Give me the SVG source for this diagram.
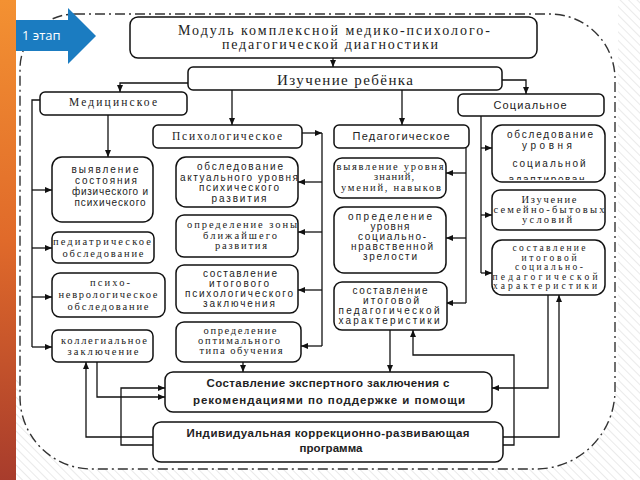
<svg xmlns="http://www.w3.org/2000/svg" width="640" height="480" viewBox="0 0 640 480">
<defs>
<pattern id="hatch" width="6" height="6" patternUnits="userSpaceOnUse" patternTransform="rotate(-45)">
<rect width="6" height="6" fill="#ffffff"/>
<line x1="0" y1="0" x2="0" y2="6" stroke="#e4e4e4" stroke-width="1.5"/>
</pattern>
<linearGradient id="strip" x1="0" y1="0" x2="0" y2="1">
<stop offset="0" stop-color="#f39132"/>
<stop offset="0.5" stop-color="#e06a2a"/>
<stop offset="1" stop-color="#a83c2c"/>
</linearGradient>
<marker id="ah" markerWidth="7" markerHeight="7" refX="7" refY="3.5" orient="auto" markerUnits="userSpaceOnUse">
<path d="M0,0.5 L7,3.5 L0,6.5 z" fill="#111"/>
</marker>
<clipPath id="clipSoc1"><rect x="493" y="126" width="111" height="54" rx="8"/></clipPath>
<style>
.box{fill:#fff;stroke:#111;stroke-width:1.5}
.c{fill:none;stroke:#111;stroke-width:1.3}
.a{fill:none;stroke:#111;stroke-width:1.3;marker-end:url(#ah)}
text{fill:#222;text-anchor:middle}
.sr{font-family:"Liberation Serif","DejaVu Serif",serif;font-size:10.5px}
.ss{font-family:"Liberation Sans","DejaVu Sans",sans-serif;font-size:10px}
.hd{font-family:"Liberation Serif","DejaVu Serif",serif;font-size:14px}
.bb{font-family:"Liberation Sans","DejaVu Sans",sans-serif;font-size:11.5px;font-weight:bold}
</style>
</defs>
<rect width="640" height="480" fill="url(#hatch)"/>
<rect x="16" y="0" width="602" height="380" fill="#fff"/>
<path d="M75,14 H550 A65,65 0 0 1 615,79 V390 A79,79 0 0 1 536,469 H92 A72,72 0 0 1 20,397 V69 A55,55 0 0 1 75,14 Z" fill="#fff" stroke="#333" stroke-width="1.4" stroke-dasharray="10 4 2 4"/>
<rect x="0" y="0" width="16" height="480" fill="url(#strip)"/>
<g id="stage">
<polygon points="16,20 68,20 68,8 96,36 68,64 68,51 16,51" fill="#1b7cc1"/>
<text x="22" y="40" style="font-family:'Open Sans','DejaVu Sans',sans-serif;font-size:13px;fill:#fff;text-anchor:start">1 этап</text>
</g>
<g id="connectors">
<path class="a" d="M333,58 V67"/>
<path class="a" d="M188,83 H120 V92"/>
<path class="a" d="M502,80 H526 V94"/>
<path class="a" d="M232,90 V125"/>
<path class="a" d="M402,90 V125"/>
<path class="c" d="M40,100 H32 V347"/>
<path class="a" d="M32,190 H52"/>
<path class="a" d="M32,248 H52"/>
<path class="a" d="M32,297 H52"/>
<path class="a" d="M32,347 H52"/>
<path class="a" d="M108,115 V157"/>
<path class="a" d="M302,133 H322"/>
<path class="c" d="M322,133 V346"/>
<path class="a" d="M322,182 H298"/>
<path class="a" d="M322,232 H298"/>
<path class="a" d="M322,290 H298"/>
<path class="a" d="M322,346 H301"/>
<path class="c" d="M466,148 V303"/>
<path class="a" d="M466,173 H446"/>
<path class="a" d="M466,238 H446"/>
<path class="a" d="M466,303 H446"/>
<path class="c" d="M481,116 V273"/>
<path class="a" d="M481,148 H492"/>
<path class="a" d="M481,215 H492"/>
<path class="a" d="M481,273 H492"/>
<path class="a" d="M243,362 V372"/>
<path class="a" d="M390,330 V372"/>
<path class="a" d="M97,362 V397 H165"/>
<path class="a" d="M153,437 H86 V362"/>
<path class="a" d="M153,445 H121 V388 H165"/>
<path class="a" d="M503,445 H514 V355 H413 V330"/>
<path class="a" d="M548,295 V388 H492"/>
<path class="a" d="M503,437 H559 V295"/>
</g>
<g id="module">
<rect class="box" x="130" y="17" width="407" height="41" rx="8"/>
<text class="hd" x="334" y="35" textLength="312">Модуль комплексной медико-психолого-</text>
<text class="hd" x="330" y="49" textLength="216">педагогической диагностики</text>
</g>
<g id="study">
<rect class="box" x="188" y="67" width="314" height="23" rx="5"/>
<text class="hd" x="345" y="85" style="font-size:15px" textLength="136">Изучение ребёнка</text>
</g>
<g id="med">
<rect class="box" x="40" y="92" width="147" height="23" rx="5"/>
<text class="sr" x="113" y="106" style="font-size:11.5px" textLength="88">Медицинское</text>
</g>
<g id="psy">
<rect class="box" x="153" y="125" width="149" height="23" rx="5"/>
<text class="sr" x="227" y="140" style="font-size:11.5px" textLength="110">Психологическое</text>
</g>
<g id="ped">
<rect class="box" x="334" y="125" width="135" height="23" rx="5"/>
<text class="ss" x="401" y="140" style="font-size:11px" textLength="97">Педагогическое</text>
</g>
<g id="soc">
<rect class="box" x="458" y="94" width="146" height="22" rx="5"/>
<text class="ss" x="530" y="109" style="font-size:11px" textLength="73">Социальное</text>
</g>
<g id="med1">
<rect class="box" x="52" y="157" width="101" height="65" rx="10"/>
<text class="ss" x="105" y="173" textLength="67">выявление</text>
<text class="ss" x="106" y="184" textLength="62">состояния</text>
<text class="ss" x="110" y="195" textLength="76">физического и</text>
<text class="ss" x="110" y="206" textLength="71">психического</text>
</g>
<g id="med2">
<rect class="box" x="52" y="232" width="102" height="31" rx="6"/>
<text class="sr" x="102" y="245" textLength="98">педиатрическое</text>
<text class="sr" x="103" y="257" textLength="81">обследование</text>
</g>
<g id="med3">
<rect class="box" x="52" y="273" width="113" height="44" rx="8"/>
<text class="sr" x="110" y="286" textLength="40">психо-</text>
<text class="sr" x="108" y="298" textLength="99">неврологическое</text>
<text class="sr" x="108" y="310" textLength="81">обследование</text>
</g>
<g id="med4">
<rect class="box" x="52" y="330" width="101" height="32" rx="6"/>
<text class="sr" x="104" y="344" textLength="86">коллегиальное</text>
<text class="sr" x="103" y="355" textLength="71">заключение</text>
</g>
<g id="psy1">
<rect class="box" x="176" y="157" width="122" height="50" rx="10"/>
<text class="ss" x="240" y="170" textLength="86">обследование</text>
<text class="ss" x="239" y="180.5" textLength="118">актуального уровня</text>
<text class="ss" x="239" y="191" textLength="80">психического</text>
<text class="ss" x="239" y="201.5" textLength="55">развития</text>
</g>
<g id="psy2">
<rect class="box" x="176" y="215" width="122" height="42" rx="8"/>
<text class="sr" x="242" y="228" textLength="110">определение зоны</text>
<text class="sr" x="240" y="238.5" textLength="74">ближайшего</text>
<text class="sr" x="241" y="249" textLength="52">развития</text>
</g>
<g id="psy3">
<rect class="box" x="176" y="265" width="122" height="48" rx="8"/>
<text class="ss" x="240" y="277" textLength="74">составление</text>
<text class="ss" x="239" y="287" textLength="60">итогового</text>
<text class="ss" x="239" y="297" textLength="108">психологического</text>
<text class="ss" x="239" y="307" textLength="72">заключения</text>
</g>
<g id="psy4">
<rect class="box" x="176" y="322" width="125" height="40" rx="8"/>
<text class="sr" x="240" y="334" textLength="73">определение</text>
<text class="sr" x="239" y="344" textLength="82">оптимального</text>
<text class="sr" x="241" y="354" textLength="83">типа обучения</text>
</g>
<g id="ped1">
<rect class="box" x="334" y="158" width="112" height="40" rx="8"/>
<text class="sr" x="390" y="170" textLength="107">выявление уровня</text>
<text class="sr" x="394" y="180" textLength="40">знаний,</text>
<text class="sr" x="391" y="190.5" textLength="100">умений, навыков</text>
</g>
<g id="ped2">
<rect class="box" x="334" y="207" width="112" height="66" rx="10"/>
<text class="ss" x="390" y="220" textLength="84">определение</text>
<text class="ss" x="390" y="230" textLength="39">уровня</text>
<text class="ss" x="392" y="240" textLength="68">социально-</text>
<text class="ss" x="392" y="250" textLength="82">нравственной</text>
<text class="ss" x="390" y="260" textLength="54">зрелости</text>
</g>
<g id="ped3">
<rect class="box" x="334" y="282" width="113" height="48" rx="8"/>
<text class="ss" x="390" y="294" textLength="75">составление</text>
<text class="ss" x="391" y="304" textLength="56">итоговой</text>
<text class="ss" x="389" y="314" textLength="101">педагогической</text>
<text class="ss" x="389" y="324" textLength="101">характеристики</text>
</g>
<g id="soc1">
<rect class="box" x="492" y="125" width="113" height="57" rx="10"/>
<g clip-path="url(#clipSoc1)">
<text class="ss" x="550" y="138" textLength="86">обследование</text>
<text class="ss" x="547" y="149" textLength="50">уровня</text>
<text class="ss" x="549" y="167" textLength="73">социальной</text>
<text class="ss" x="549" y="183" textLength="81">адаптирован-</text>
</g>
</g>
<g id="soc2">
<rect class="box" x="492" y="190" width="113" height="40" rx="8"/>
<text class="sr" x="549" y="203" textLength="55">Изучение</text>
<text class="sr" x="549" y="213" textLength="111">семейно-бытовых</text>
<text class="sr" x="547" y="223" textLength="50">условий</text>
</g>
<g id="soc3">
<rect class="box" x="492" y="240" width="113" height="55" rx="10"/>
<text class="sr" x="549" y="251" style="font-size:9.5px" textLength="73">составление</text>
<text class="sr" x="549" y="260.5" style="font-size:9.5px" textLength="55">итоговой</text>
<text class="sr" x="549" y="270" style="font-size:9.5px" textLength="68">социально-</text>
<text class="sr" x="545" y="279.5" style="font-size:9.5px" textLength="105">педагогической</text>
<text class="sr" x="545" y="289" style="font-size:9.5px" textLength="104">характеристики</text>
</g>
<g id="expert">
<rect class="box" x="165" y="372" width="327" height="40" rx="8"/>
<text class="bb" x="328" y="387" textLength="243">Составление экспертного заключения с</text>
<text class="bb" x="329" y="404" textLength="272">рекомендациями по поддержке и помощи</text>
</g>
<g id="program">
<rect class="box" x="153" y="422" width="350" height="40" rx="8"/>
<text class="bb" x="328" y="437" textLength="283">Индивидуальная коррекционно-развивающая</text>
<text class="bb" x="331" y="452" textLength="63">программа</text>
</g>
</svg>
